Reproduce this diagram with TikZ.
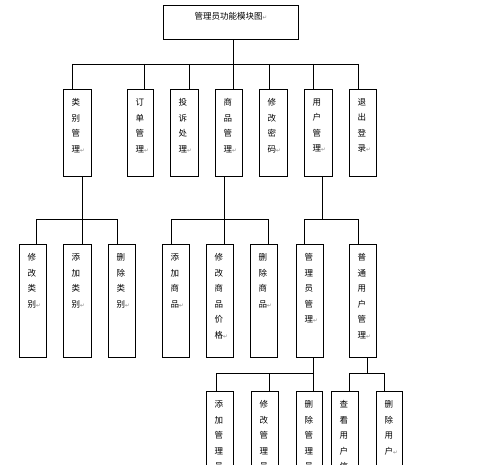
\documentclass[tikz,border=0pt]{standalone}
\usepackage{fontspec}
\newfontfamily\cjk{Noto Sans CJK SC}
\newfontfamily\djv{DejaVu Sans}
\tikzset{
  box/.style={draw, line width=0.8pt, inner sep=0pt, anchor=north west},
  lbl/.style={anchor=north west, align=left, inner sep=0pt, font=\cjk\fontsize{8.5}{15.5}\selectfont},
  wire/.style={line width=0.8pt},
}
\newcommand\ret{{\djv\fontsize{5.5}{5.5}\selectfont\textcolor{gray}{↵}}}
% name, x1, y1, x2, y2, text
\newcommand\bx[6]{%
  \node[box, minimum width={(#4-#2)*1pt}, minimum height={(#5-#3)*1pt}] (#1) at (#2,#3) {};
  \node[lbl] (#1t) at ([xshift=8.5pt,yshift=-9.5pt]#1.north west) {#6};
}
\begin{document}
\begin{tikzpicture}[x=1pt,y=-1pt]
\useasboundingbox (0,0) rectangle (500,465);
\clip (0,0) rectangle (500,465);
% top
\node[box, minimum width=135pt, minimum height=34pt] (top) at (163,5) {};
\node[anchor=center, inner sep=0pt, font=\cjk\fontsize{8.5}{10}\selectfont] (topt) at (231,16) {管理员功能模块图\ret};
% level 1
\bx{A}{63}{89}{91}{176}{类\\别\\管\\理\ret}
\bx{B}{127}{89}{153}{176}{订\\单\\管\\理\ret}
\bx{C}{170}{89}{198}{176}{投\\诉\\处\\理\ret}
\bx{D}{215}{89}{242}{176}{商\\品\\管\\理\ret}
\bx{E}{259}{89}{287}{176}{修\\改\\密\\码\ret}
\bx{F}{304}{89}{332}{176}{用\\户\\管\\理\ret}
\bx{G}{349}{89}{376}{176}{退\\出\\登\\录\ret}
% level 2
\bx{A1}{19}{244}{46}{357}{修\\改\\类\\别\ret}
\bx{A2}{63}{244}{91}{357}{添\\加\\类\\别\ret}
\bx{A3}{108}{244}{135}{357}{删\\除\\类\\别\ret}
\bx{D1}{162}{244}{189}{357}{添\\加\\商\\品\ret}
\bx{D2}{206}{244}{233}{357}{修\\改\\商\\品\\价\\格\ret}
\bx{D3}{250}{244}{277}{357}{删\\除\\商\\品\ret}
\bx{F1}{296}{244}{323}{357}{管\\理\\员\\管\\理\ret}
\bx{F2}{349}{244}{376}{357}{普\\通\\用\\户\\管\\理\ret}
% level 3
\bx{F1a}{206}{391}{233}{530}{添\\加\\管\\理\\员\ret}
\bx{F1b}{251}{391}{278}{530}{修\\改\\管\\理\\员}
\bx{F1c}{296}{391}{322}{530}{删\\除\\管\\理\\员\ret}
\bx{F2a}{331}{391}{358}{530}{查\\看\\用\\户\\信}
\bx{F2b}{376}{391}{402}{530}{删\\除\\用\\户\ret}
% bus coordinates
\coordinate (t0) at (233,64);
\coordinate (cA) at (72,64);  \coordinate (cB) at (144,64);
\coordinate (cC) at (189,64); \coordinate (cD) at (233,64);
\coordinate (cE) at (269,64); \coordinate (cF) at (313,64);
\coordinate (cG) at (358,64);
\coordinate (a0) at (82,219);  \coordinate (a1) at (36,219);
\coordinate (a2) at (82,219);  \coordinate (a3) at (117,219);
\coordinate (d0) at (224,219); \coordinate (d1) at (171,219);
\coordinate (d2) at (224,219); \coordinate (d3) at (268,219);
\coordinate (f0) at (322,219); \coordinate (f1) at (304,219);
\coordinate (f2) at (358,219);
\coordinate (g0) at (313,373); \coordinate (g1) at (216,373);
\coordinate (g2) at (269,373); \coordinate (g3) at (313,373);
\coordinate (h0) at (367,373); \coordinate (h1) at (349,373);
\coordinate (h2) at (384,373);
% level 0 -> 1
\draw[wire] (top.south -| t0) -- (t0);
\draw[wire] (cA) -- (cG);
\foreach \n in {A,B,C,D,E,F,G} \draw[wire] (c\n) -- (\n.north -| c\n);
% A -> A1..A3
\draw[wire] (A.south -| a0) -- (a0);
\draw[wire] (a1) -- (a3);
\draw[wire] (a1) -- (A1.north -| a1);
\draw[wire] (a2) -- (A2.north -| a2);
\draw[wire] (a3) -- (A3.north -| a3);
% D -> D1..D3
\draw[wire] (D.south -| d0) -- (d0);
\draw[wire] (d1) -- (d3);
\draw[wire] (d1) -- (D1.north -| d1);
\draw[wire] (d2) -- (D2.north -| d2);
\draw[wire] (d3) -- (D3.north -| d3);
% F -> F1, F2
\draw[wire] (F.south -| f0) -- (f0);
\draw[wire] (f1) -- (f2);
\draw[wire] (f1) -- (F1.north -| f1);
\draw[wire] (f2) -- (F2.north -| f2);
% F1 -> F1a..c
\draw[wire] (F1.south -| g0) -- (g0);
\draw[wire] (g1) -- (g3);
\draw[wire] (g1) -- (F1a.north -| g1);
\draw[wire] (g2) -- (F1b.north -| g2);
\draw[wire] (g3) -- (F1c.north -| g3);
% F2 -> F2a, F2b
\draw[wire] (F2.south -| h0) -- (h0);
\draw[wire] (h1) -- (h2);
\draw[wire] (h1) -- (F2a.north -| h1);
\draw[wire] (h2) -- (F2b.north -| h2);
\end{tikzpicture}
\end{document}
